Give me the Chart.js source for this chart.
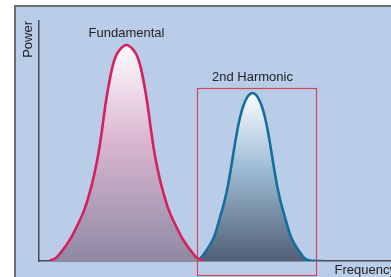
<!DOCTYPE html>
<html>
<head>
<meta charset="utf-8">
<script src="https://cdn.jsdelivr.net/npm/chart.js@4"></script>
<style>
  html, body { margin: 0; padding: 0; background: #fff; overflow: hidden; }
  #panel {
    position: absolute; left: 14px; top: 5px;
    width: 380px; height: 272px;
    border-left: 2px solid #6e6e72; border-top: 2px solid #6e6e72;
    background: #b9cde9;
  }
  canvas { display: block; }
</style>
</head>
<body>
<div id="panel"><canvas id="spectrum" width="380" height="272"></canvas></div>
<script>
// frequency (arbitrary units) and power (% of full scale)
const fundFreq  = [3, 5, 7, 9, 11, 13, 15, 16, 17, 18, 19, 20, 21, 22, 23, 25,
                   27, 28, 29, 30, 31, 32, 33, 34, 35, 37, 39, 41, 43, 45, 47];
const fundPower = [0, 1.5, 5, 9.3, 15, 21.5, 31.3, 37.5, 45, 54.5, 65.3, 74, 81, 85.5, 87.9, 90,
                   87.9, 85.5, 81, 74, 65.3, 54.5, 45, 37.5, 31.3, 21.5, 15, 9.3, 5, 1.5, 0];

const harmFreq  = [41, 44, 46, 48, 50, 52, 53, 54, 55, 56, 57, 58, 59, 60, 61,
                   62, 63, 64, 65, 66, 67, 68, 69, 70, 72, 74, 76, 78, 81];
const harmPower = [0, 0.1, 1.0, 4.8, 10, 19.6, 25, 31.6, 40, 49, 57, 63, 66.9, 69.2, 70,
                   69.2, 66.9, 63, 57, 49, 40, 31.6, 25, 19.6, 10, 4.8, 1.0, 0.1, 0];

const peakLabels = ['Fundamental', '2nd Harmonic'];
const boxFreq  = [45, 79];   // highlighted band
const boxPower = [-6, 72];

const toPoints = (xs, ys) => xs.map((x, i) => ({ x: x, y: ys[i] }));

function fillGradient(stops) {
  return ctx => {
    const chart = ctx.chart;
    if (!chart.chartArea) return stops[0];
    const ds = chart.data.datasets[ctx.datasetIndex];
    const peak = Math.max(...ds.data.map(p => p.y));
    const y = chart.scales.y;
    const g = chart.ctx.createLinearGradient(0, y.getPixelForValue(peak), 0, y.getPixelForValue(0));
    g.addColorStop(0, stops[0]);
    g.addColorStop(0.45, stops[1]);
    g.addColorStop(1, stops[2]);
    return g;
  };
}

// peak captions and the red band box
const extras = {
  id: 'extras',
  afterDatasetsDraw(chart) {
    const { ctx, scales: { x, y } } = chart;
    ctx.save();
    ctx.font = '13px "Liberation Sans", Arial, sans-serif';
    ctx.fillStyle = '#222';
    ctx.textAlign = 'center';
    ctx.textBaseline = 'middle';
    const sets = [[fundFreq, fundPower, 12], [harmFreq, harmPower, 16]];
    sets.forEach(([fx, fp, gap], i) => {
      const k = fp.indexOf(Math.max(...fp));
      ctx.fillText(peakLabels[i], x.getPixelForValue(fx[k]), y.getPixelForValue(fp[k]) - gap);
    });
    const x0 = x.getPixelForValue(boxFreq[0]), x1 = x.getPixelForValue(boxFreq[1]);
    const y0 = y.getPixelForValue(boxPower[1]), y1 = y.getPixelForValue(boxPower[0]);
    ctx.strokeStyle = 'rgba(212, 48, 62, 0.85)';
    ctx.lineWidth = 1.2;
    ctx.strokeRect(Math.round(x0) + 0.5, Math.round(y0) + 0.5, Math.round(x1 - x0), Math.round(y1 - y0));
    ctx.restore();
  }
};

new Chart(document.getElementById('spectrum'), {
  type: 'line',
  data: {
    datasets: [{
      data: toPoints(fundFreq, fundPower),
      borderColor: '#d81f5e',
      borderWidth: 2.6,
      backgroundColor: fillGradient(['#fdfbfd', '#d9b6d0', '#8e89a4']),
      fill: 'origin',
      pointRadius: 0,
      cubicInterpolationMode: 'monotone'
    }, {
      data: toPoints(harmFreq, harmPower),
      borderColor: '#136f9e',
      borderWidth: 2.6,
      backgroundColor: fillGradient(['#fbfdfe', '#9dbcd5', '#525f75']),
      fill: 'origin',
      pointRadius: 0,
      cubicInterpolationMode: 'monotone'
    }]
  },
  options: {
    responsive: false,
    animation: false,
    layout: { padding: { top: 14, left: 0, right: 0, bottom: 0 } },
    plugins: { legend: { display: false }, tooltip: { enabled: false } },
    scales: {
      x: {
        type: 'linear', min: 0, max: 102,
        grid: { display: false },
        ticks: { display: false },
        border: { color: '#4b4b55', width: 1.5 },
        title: {
          display: true, text: 'Frequency', align: 'end',
          color: '#222', font: { family: '"Liberation Sans", Arial, sans-serif', size: 13 },
          padding: { top: 0, bottom: 1 }
        },
        afterFit: s => { s.height = 18; }
      },
      y: {
        min: 0, max: 100,
        grid: { display: false },
        ticks: { display: false },
        border: { color: '#4b4b55', width: 1.5 },
        title: {
          display: true, text: 'Power', align: 'end',
          color: '#222', font: { family: '"Liberation Sans", Arial, sans-serif', size: 13 },
          padding: { top: 5, bottom: 0 }
        },
        afterFit: s => { s.width = 23; }
      }
    }
  },
  plugins: [extras]
});
</script>
</body>
</html>
